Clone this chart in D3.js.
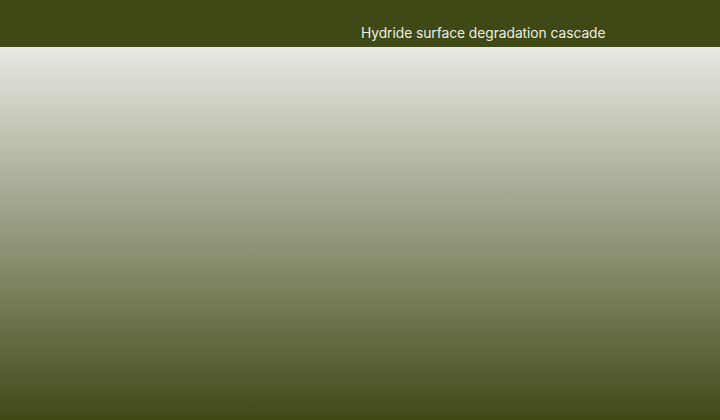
<!DOCTYPE html>
<html>
<head>
<meta charset="utf-8">
<script src="https://cdn.jsdelivr.net/npm/d3@7"></script>
<style>
  html, body { margin: 0; padding: 0; background: #3f4916; }
  svg { display: block; }
</style>
</head>
<body>
<script>
// chart text
var title = "Hydride surface degradation cascade";

// background gradient stops (offset, colour)
var stopOffsets = [0, 1];
var stopColors = ["#e8e9e3", "#3f4916"];

var width = 720, height = 420, headerH = 47;

var svg = d3.select("body").append("svg")
    .attr("width", width)
    .attr("height", height);

var grad = svg.append("defs").append("linearGradient")
    .attr("id", "bg")
    .attr("x1", 0).attr("y1", 0)
    .attr("x2", 0).attr("y2", 1);

grad.selectAll("stop").data(stopOffsets).enter().append("stop")
    .attr("offset", function (d) { return d; })
    .attr("stop-color", function (d, i) { return stopColors[i]; });

// plot area
svg.append("rect")
    .attr("x", 0).attr("y", headerH)
    .attr("width", width).attr("height", height - headerH)
    .attr("fill", "url(#bg)");

// header bar
svg.append("rect")
    .attr("x", 0).attr("y", 0)
    .attr("width", width).attr("height", headerH)
    .attr("fill", "#3f4916");

svg.append("text")
    .attr("x", 361)
    .attr("y", 38)
    .attr("font-family", "Inter, sans-serif")
    .attr("font-size", 13.8)
    .attr("letter-spacing", -0.05)
    .attr("fill", "#eceee4")
    .text(title);
</script>
</body>
</html>
